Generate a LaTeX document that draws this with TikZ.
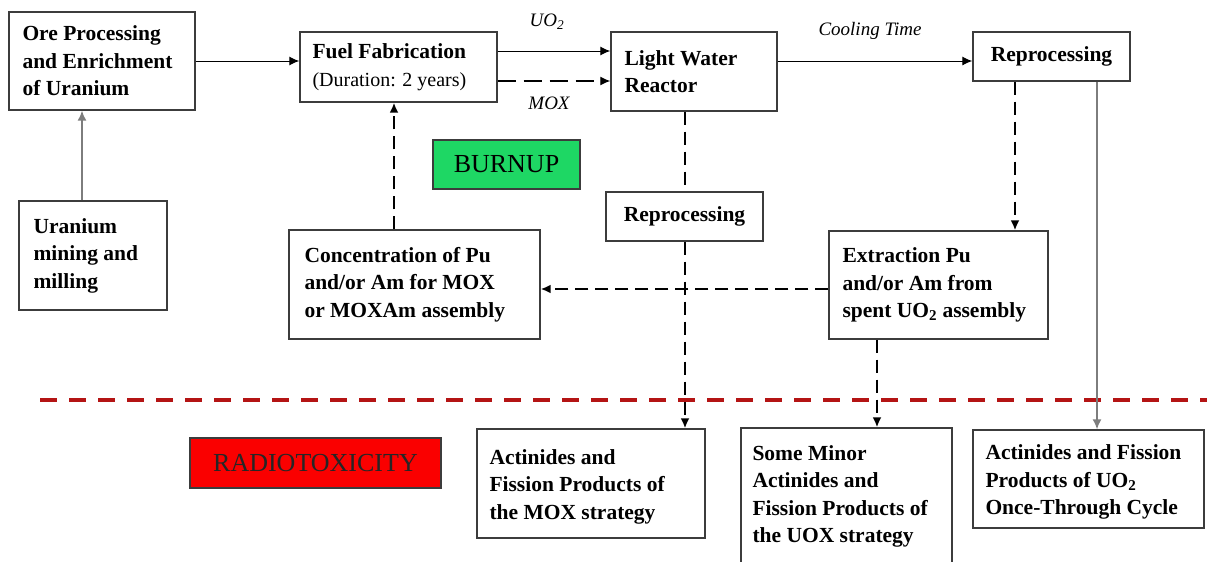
\documentclass[tikz,border=0pt]{standalone}
\usepackage{fontspec}
\setmainfont{Liberation Serif}
\usetikzlibrary{arrows.meta}
\definecolor{boxline}{RGB}{60,60,60}
\definecolor{grayline}{RGB}{125,125,125}
\definecolor{burnupgreen}{RGB}{30,215,100}
\definecolor{radred}{RGB}{250,0,0}
\definecolor{dashred}{RGB}{180,20,20}
\tikzset{
  box/.style={draw=boxline, line width=1.4pt, fill=white, inner sep=0pt},
  txt/.style={align=left, inner sep=0pt, font=\fontsize{21.5}{27.5}\selectfont\bfseries},
  ctxt/.style={font=\fontsize{21.5}{27.5}\selectfont\bfseries},
  lbl/.style={font=\fontsize{19}{22}\selectfont\itshape, inner sep=0pt},
  tip/.style={-{Latex[length=10pt,width=9pt]}},
  thin/.style={line width=1pt, black},
  gline/.style={line width=1.6pt, grayline},
  bdash/.style={line width=2.3pt, black, dash pattern=on 13pt off 7pt},
  mdash/.style={line width=1.3pt, black, dash pattern=on 18pt off 8pt},
  rdash/.style={line width=4.5pt, dashred, dash pattern=on 17pt off 12pt},
}
\begin{document}
\begin{tikzpicture}[x=1pt,y=-1pt]
\useasboundingbox[fill=white] (0,0) rectangle (1207,562);

% boxes
\node[box, minimum width=186pt, minimum height=98pt] (ore) at (102,61) {};
\node[txt, anchor=west] (oret) at ([xshift=14pt]ore.west) {Ore Processing\\and Enrichment\\of Uranium};

\node[box, minimum width=197pt, minimum height=70pt] (fuel) at (398.5,67) {};
\node[txt, anchor=west] (fuelt) at ([xshift=13pt]fuel.west) {Fuel Fabrication\\{\mdseries\fontsize{20}{26}\selectfont (Duration: 2 years)}};

\node[box, minimum width=166pt, minimum height=79pt] (lwr) at (694,71.5) {};
\node[txt, anchor=west] (lwrt) at ([xshift=14pt]lwr.west) {Light Water\\Reactor};

\node[box, minimum width=157pt, minimum height=49pt, ctxt] (rept) at (1051.5,56.5) {Reprocessing};

\node[box, minimum width=148pt, minimum height=109pt] (uran) at (93,255.5) {};
\node[txt, anchor=west] (urant) at ([xshift=15pt]uran.west) {Uranium\\mining and\\milling};

\node[box, fill=burnupgreen, minimum width=147pt, minimum height=49pt, font=\fontsize{26}{30}\selectfont] (burnup) at (506.5,164.5) {BURNUP};

\node[box, minimum width=157pt, minimum height=49pt, ctxt] (repm) at (684.5,216.5) {Reprocessing};

\node[box, minimum width=251pt, minimum height=109pt] (conc) at (414.5,284.5) {};
\node[txt, anchor=west] (conct) at ([xshift=16pt]conc.west) {Concentration of Pu\\and/or Am for MOX\\or MOXAm assembly};

\node[box, minimum width=219pt, minimum height=108pt] (extr) at (938.5,285) {};
\node[txt, anchor=west] (extrt) at ([xshift=14pt]extr.west) {Extraction Pu\\and/or Am from\\spent UO\textsubscript{2} assembly};

\node[box, fill=radred, minimum width=251pt, minimum height=50pt, font=\fontsize{26}{30}\selectfont, text=black!85] (radio) at (315.5,463) {RADIOTOXICITY};

\node[box, minimum width=228pt, minimum height=109pt] (actmox) at (591,483.5) {};
\node[txt, anchor=west] (actmoxt) at ([xshift=13pt,yshift=-3pt]actmox.west) {Actinides and\\Fission Products of\\the MOX strategy};

\node[box, minimum width=211pt, minimum height=137pt] (minor) at (846.5,496.5) {};
\node[txt, anchor=west] (minort) at ([xshift=12pt]minor.west) {Some Minor\\Actinides and\\Fission Products of\\the UOX strategy};

\node[box, minimum width=231pt, minimum height=98pt] (actuo) at (1088.5,479) {};
\node[txt, anchor=west] (actuot) at ([xshift=13pt,yshift=-3pt]actuo.west) {Actinides and Fission\\Products of UO\textsubscript{2}\\Once-Through Cycle};

% separator
\coordinate (sepL) at (40,400);
\coordinate (sepR) at (1207,400);
\draw[rdash] (sepL) -- (sepR);

% connectors
\draw[thin, tip] (ore.east) -- (ore.east -| fuel.west);
\draw[gline, tip] (uran.north -| 82,0) -- (ore.south -| 82,0);
\draw[thin, tip] (fuel.east |- 0,51) -- (lwr.west |- 0,51);
\draw[mdash, tip] (fuel.east |- 0,81) -- (lwr.west |- 0,81);
\draw[thin, tip] (lwr.east |- 0,61) -- (rept.west |- 0,61);

\draw[bdash] (lwr.south -| 685,0) -- (repm.north -| 685,0);
\draw[bdash, tip] (repm.south -| 685,0) -- (actmox.north -| 685,0);
\draw[bdash, tip] (rept.south -| 1015,0) -- (extr.north -| 1015,0);
\draw[gline, tip] (rept.south -| 1097,0) -- (actuo.north -| 1097,0);
\draw[bdash, tip] (extr.west |- 0,289) -- (conc.east |- 0,289);
\draw[bdash, tip] (conc.north -| 394,0) -- (fuel.south -| 394,0);
\draw[bdash, tip] (extr.south -| 877,0) -- (minor.north -| 877,0);

% labels
\node[lbl] (uolbl) at (547,22) {UO\textsubscript{2}};
\node[lbl] (moxlbl) at (549,103) {MOX};
\node[lbl] (coollbl) at (870,31) {Cooling Time};
\end{tikzpicture}
\end{document}
